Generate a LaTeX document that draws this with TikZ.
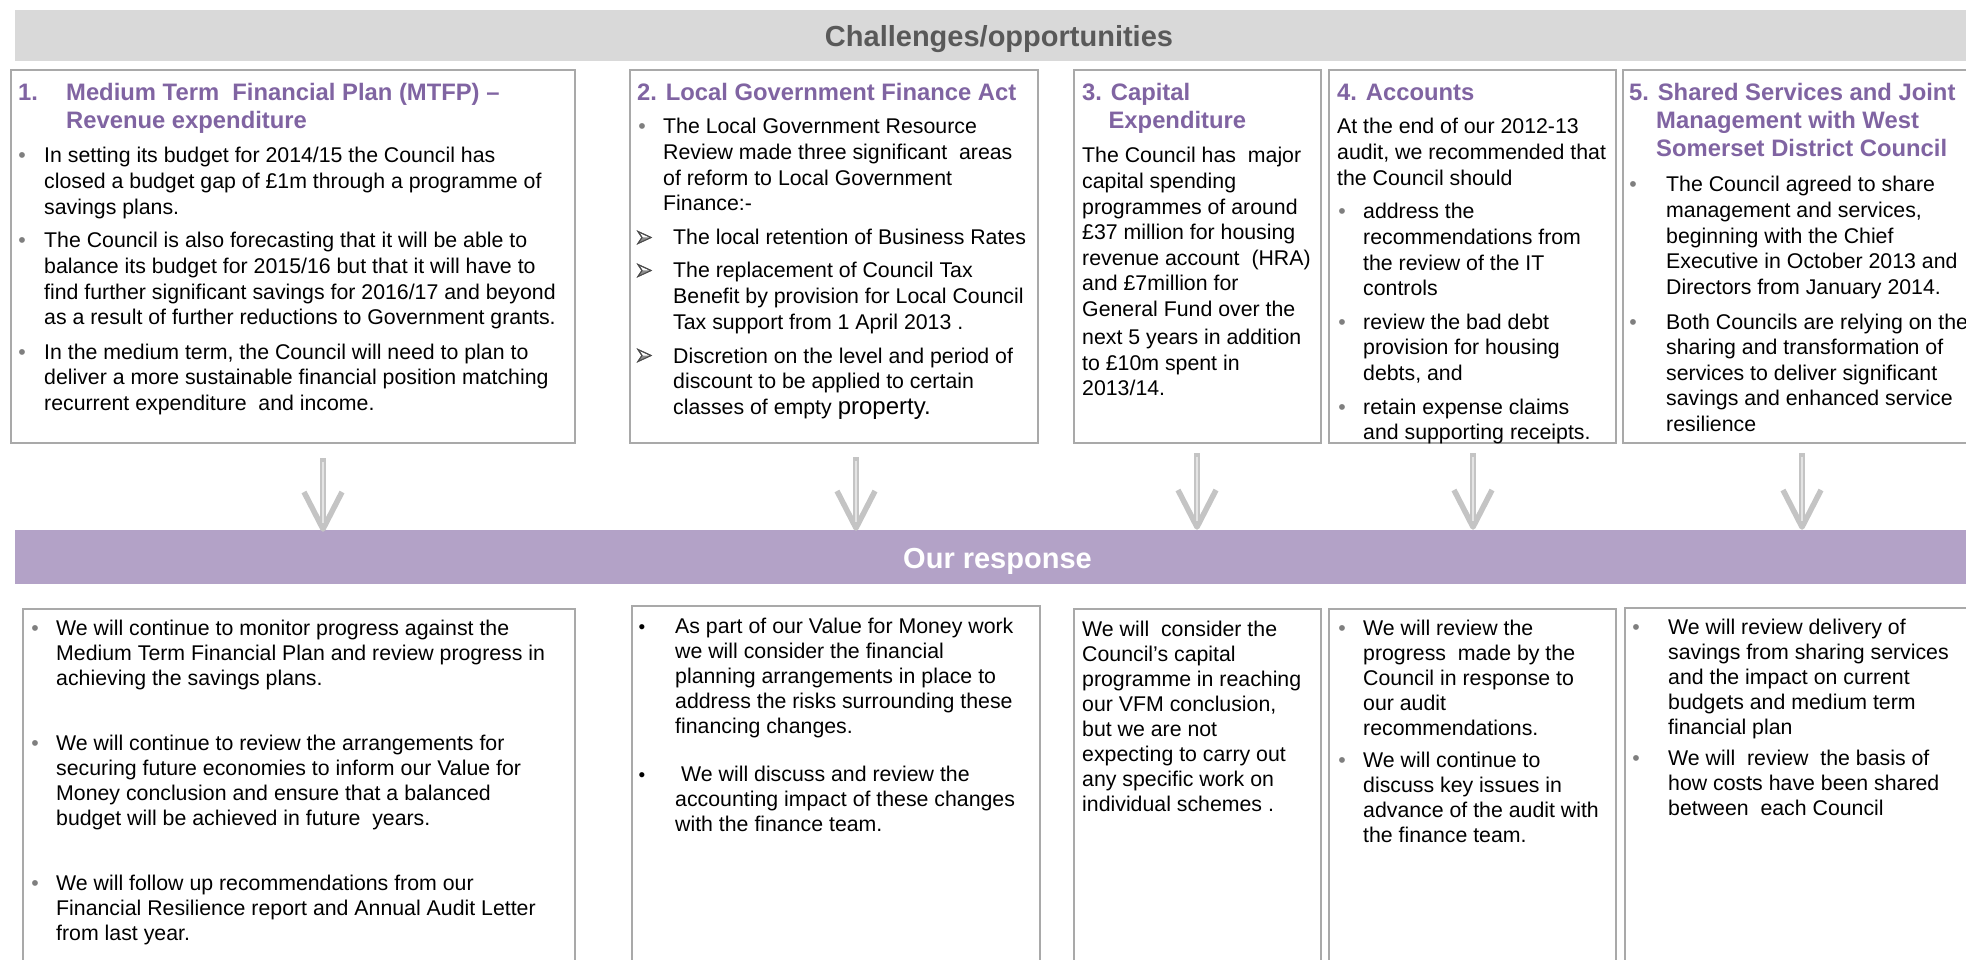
\documentclass[tikz,border=0pt]{standalone}
\usepackage{fontspec}
\setmainfont{Liberation Sans}
\usetikzlibrary{calc}

\definecolor{bandgray}{HTML}{D9D9D9}
\definecolor{bandtext}{HTML}{595959}
\definecolor{bandpurple}{HTML}{B3A2C7}
\definecolor{titlepurple}{HTML}{8064A2}
\definecolor{framegray}{HTML}{A9A9A9}
\definecolor{bulgray}{HTML}{7F7F7F}
\definecolor{arrowgray}{HTML}{C4C4C4}
\definecolor{arrowlight}{HTML}{E4E4E4}

% multi-line block whose reference point is the first baseline
\newcommand{\lns}[1]{\parbox[t]{520pt}{\raggedright #1}}

\tikzset{
  panel/.style={draw=framegray, line width=1.6pt, anchor=north west, inner sep=0pt},
  band/.style={fill=#1, anchor=north west, inner sep=0pt, minimum width=1962pt},
  bandlabel/.style={anchor=base, inner sep=0pt, font=\bfseries\fontsize{29}{32}\selectfont},
  heading/.style={anchor=base west, inner sep=0pt, text=titlepurple,
    font=\bfseries\fontsize{23.8}{28}\selectfont},
  txt/.style={anchor=base west, inner sep=0pt, font=\fontsize{21.3}{25.6}\selectfont},
  txtb/.style={anchor=base west, inner sep=0pt, font=\fontsize{21.3}{25}\selectfont},
  gbul/.style={anchor=base, inner sep=0pt, text=bulgray, font=\fontsize{21.3}{25}\selectfont},
  kbul/.style={anchor=base, inner sep=0pt, text=black, font=\fontsize{19}{25}\selectfont},
  headbullet/.style={draw=black!70, line width=1pt, line join=miter, fill=white},
  shaft/.style={draw=arrowgray, line width=5.5pt},
  shafthi/.style={draw=arrowlight, line width=1.8pt},
}

\begin{document}
\begin{tikzpicture}[x=1pt,y=-1pt]
\useasboundingbox (0,0) rectangle (1966,960);
\fill[white] (0,0) rectangle (1966,960);

% ---------- banners ----------
\node[band=bandgray, minimum height=51pt] (topband) at (15,10) {};
\node[bandlabel, text=bandtext] (toplabel) at (999,46.5) {Challenges/opportunities};
\node[band=bandpurple, minimum height=54pt] (respband) at (15,530) {};
\node[bandlabel, text=white] (resplabel) at (997.5,568) {Our response};

% ---------- upper panels ----------
\node[panel, minimum width=564pt, minimum height=373pt] (b1) at (10,69) {};
\node[panel, minimum width=408pt, minimum height=373pt] (b2) at (629,69) {};
\node[panel, minimum width=247pt, minimum height=373pt] (b3) at (1073,69) {};
\node[panel, minimum width=287pt, minimum height=373pt] (b4) at (1328,69) {};
\node[panel, minimum width=360pt, minimum height=373pt] (b5) at (1622,69) {};

% ---------- lower panels ----------
\node[panel, minimum width=552pt, minimum height=375pt] (c1) at (22,608) {};
\node[panel, minimum width=408pt, minimum height=378pt] (c2) at (631,605) {};
\node[panel, minimum width=247pt, minimum height=375pt] (c3) at (1073,608) {};
\node[panel, minimum width=287pt, minimum height=375pt] (c4) at (1328,608) {};
\node[panel, minimum width=360pt, minimum height=376pt] (c5) at (1624,607) {};

% ---------- panel 1 ----------
\node[heading] (h1) at (18,100.5) {\lns{\makebox[48pt][l]{1.}Medium Term\ \ Financial Plan (MTFP) –\\\hspace*{48pt}Revenue expenditure}};
\node[gbul] (p1a) at (22,163) {•};
\node[txt] (t1a) at (44,163) {\lns{In setting its budget for 2014/15 the Council has\\closed a budget gap of £1m through a programme of\\savings plans.}};
\node[gbul] (p1b) at (22,248) {•};
\node[txt] (t1b) at (44,248) {\lns{The Council is also forecasting that it will be able to\\balance its budget for 2015/16 but that it will have to\\find further significant savings for 2016/17 and beyond\\as a result of further reductions to Government grants.}};
\node[gbul] (p1c) at (22,359) {•};
\node[txt] (t1c) at (44,359) {\lns{In the medium term, the Council will need to plan to\\deliver a more sustainable financial position matching\\recurrent expenditure\ \ and income.}};

% ---------- panel 2 ----------
\node[heading] (h2) at (637,100.5) {2. Local Government Finance Act};
\node[gbul] (p2a) at (642,134) {•};
\node[txt] (t2a) at (663,134) {\lns{The Local Government Resource\\Review made three significant\ \ areas\\of reform to Local Government\\Finance:-}};
% arrowhead bullets, anchored on the middle of the text line
\foreach \nm/\yb in {p2b/245, p2c/278, p2d/363}{
  \coordinate (\nm) at (638,\yb-7.5);
  \draw[headbullet] ($(\nm)+(0,-6)$) -- ($(\nm)+(13,0)$) -- ($(\nm)+(0,6)$) -- ($(\nm)+(4,0)$) -- cycle;
  \fill[black!45] ($(\nm)+(4,0)$) -- ($(\nm)+(13,0)$) -- ($(\nm)+(0,6)$) -- cycle;
  \draw[headbullet, fill=none] ($(\nm)+(0,-6)$) -- ($(\nm)+(13,0)$) -- ($(\nm)+(0,6)$) -- ($(\nm)+(4,0)$) -- cycle;
}
\node[txt] (t2b) at (673,245) {The local retention of Business Rates};
\node[txt] (t2c) at (673,278) {\lns{The replacement of Council Tax\\Benefit by provision for Local Council\\Tax support from 1 April 2013 .}};
\node[txt] (t2d) at (673,363) {\lns{Discretion on the level and period of\\discount to be applied to certain\\classes of empty {\fontsize{24}{25.6}\selectfont property.}}};

% ---------- panel 3 ----------
\node[heading] (h3) at (1082,100.5) {\lns{3. Capital\\\hspace*{26.4pt}Expenditure}};
\node[txt] (t3) at (1082,163) {\lns{The Council has\ \ major\\capital spending\\programmes of around\\£37 million for housing\\revenue account\ \ (HRA)\\and £7million for\\General Fund over the\\[2.5pt]next 5 years in addition\\to £10m spent in\\2013/14.}};

% ---------- panel 4 ----------
\node[heading] (h4) at (1337,100.5) {4. Accounts};
\node[txt] (t4) at (1337,134) {\lns{At the end of our 2012-13\\audit, we recommended that\\the Council should}};
\node[gbul] (p4a) at (1342,219) {•};
\node[txt] (t4a) at (1363,219) {\lns{address the\\recommendations from\\the review of the IT\\controls}};
\node[gbul] (p4b) at (1342,329) {•};
\node[txt] (t4b) at (1363,329) {\lns{review the bad debt\\provision for housing\\debts, and}};
\node[gbul] (p4c) at (1342,414) {•};
\node[txt] (t4c) at (1363,414) {\lns{retain expense claims\\and supporting receipts.}};

% ---------- panel 5 ----------
\node[heading] (h5) at (1629,100.5) {\lns{5. Shared Services and Joint\\\hspace*{27pt}Management with West\\\hspace*{27pt}Somerset District Council}};
\node[gbul] (p5a) at (1633,192) {•};
\node[txt] (t5a) at (1666,192) {\lns{The Council agreed to share\\management and services,\\beginning with the Chief\\Executive in October 2013 and\\Directors from January 2014.}};
\node[gbul] (p5b) at (1633,329) {•};
\node[txt] (t5b) at (1666,329) {\lns{Both Councils are relying on the\\sharing and transformation of\\services to deliver significant\\savings and enhanced service\\resilience}};

% ---------- downward arrows ----------
\foreach \n/\cx/\ty/\tip in {1/323/458/529, 2/856/457/528, 3/1197/453/527, 4/1473/453/527, 5/1802/453/527}{
  \coordinate (a\n top) at (\cx,\ty);
  \coordinate (a\n tip) at (\cx,\tip);
  \draw[shaft, line cap=butt] (a\n top) -- (a\n tip);
  \draw[shaft, line join=round, line cap=butt] ($(a\n tip)+(-19,-37)$) -- (a\n tip) -- ($(a\n tip)+(19,-37)$);
  \draw[shafthi] ($(a\n top)+(0,4)$) -- ($(a\n tip)+(0,-6)$);
}

% ---------- response 1 ----------
\node[gbul] (q1a) at (35,635) {•};
\node[txtb] (r1a) at (56,635) {\lns{We will continue to monitor progress against the\\Medium Term Financial Plan and review progress in\\achieving the savings plans.}};
\node[gbul] (q1b) at (35,750) {•};
\node[txtb] (r1b) at (56,750) {\lns{We will continue to review the arrangements for\\securing future economies to inform our Value for\\Money conclusion and ensure that a balanced\\budget will be achieved in future\ \ years.}};
\node[gbul] (q1c) at (35,890) {•};
\node[txtb] (r1c) at (56,890) {\lns{We will follow up recommendations from our\\Financial Resilience report and Annual Audit Letter\\from last year.}};

% ---------- response 2 ----------
\node[kbul] (q2a) at (642,633) {•};
\node[txtb] (r2a) at (675,633) {\lns{As part of our Value for Money work\\we will consider the financial\\planning arrangements in place to\\address the risks surrounding these\\financing changes.}};
\node[kbul] (q2b) at (642,781) {•};
\node[txtb] (r2b) at (675,781) {\lns{\hspace*{6pt}We will discuss and review the\\accounting impact of these changes\\with the finance team.}};

% ---------- response 3 ----------
\node[txtb] (r3) at (1082,636) {\lns{We will\ \ consider the\\Council's capital\\programme in reaching\\our VFM conclusion,\\but we are not\\expecting to carry out\\any specific work on\\individual schemes .}};

% ---------- response 4 ----------
\node[gbul] (q4a) at (1342,635) {•};
\node[txtb] (r4a) at (1363,635) {\lns{We will review the\\progress\ \ made by the\\Council in response to\\our audit\\recommendations.}};
\node[gbul] (q4b) at (1342,767) {•};
\node[txtb] (r4b) at (1363,767) {\lns{We will continue to\\discuss key issues in\\advance of the audit with\\the finance team.}};

% ---------- response 5 ----------
\node[gbul] (q5a) at (1636,634) {•};
\node[txtb] (r5a) at (1668,634) {\lns{We will review delivery of\\savings from sharing services\\and the impact on current\\budgets and medium term\\financial plan}};
\node[gbul] (q5b) at (1636,765) {•};
\node[txtb] (r5b) at (1668,765) {\lns{We will\ \ review\ \ the basis of\\how costs have been shared\\between\ \ each Council}};

\end{tikzpicture}
\end{document}
